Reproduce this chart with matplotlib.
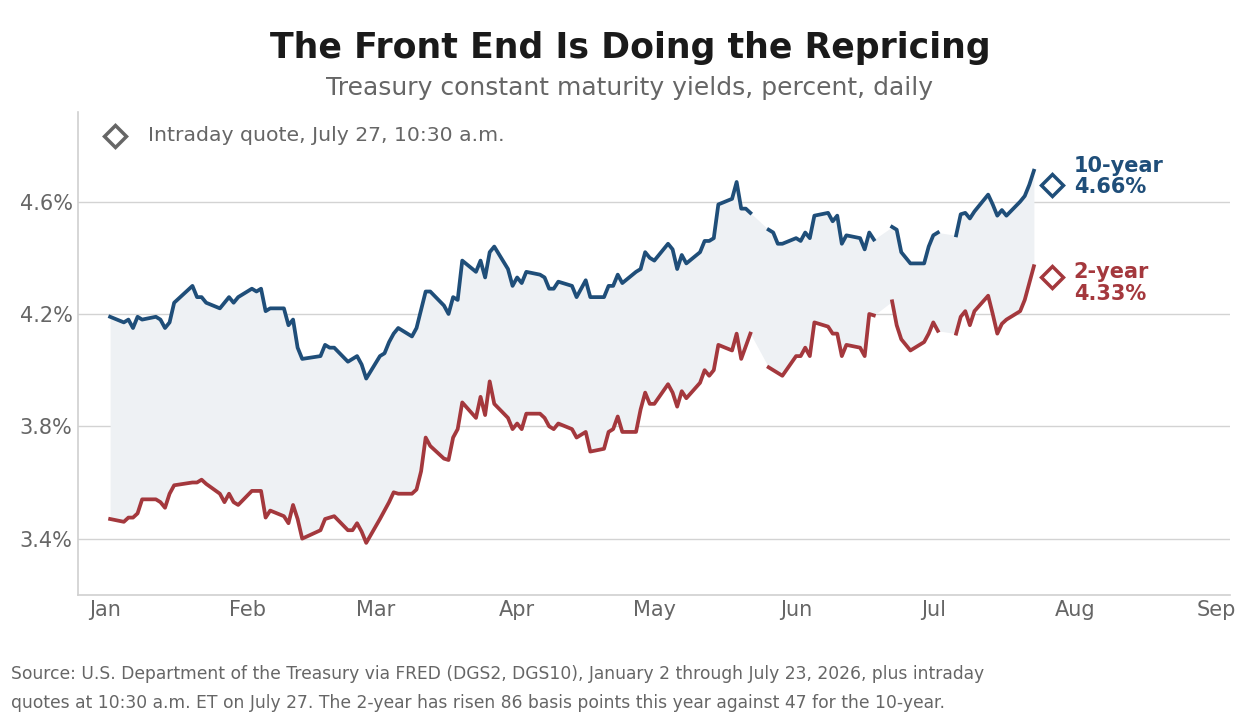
import matplotlib
matplotlib.use("Agg")
import matplotlib.pyplot as plt
import matplotlib.dates as mdates
import numpy as np
import pandas as pd

nan = np.nan

# trading days Jan 2 - Jul 23, 2026 (MLK and Presidents Day rows absent,
# May 25 / Jun 19 / Jul 3 kept as missing values)
dias = pd.bdate_range("2026-01-02", "2026-07-23")
dias = dias.drop(pd.to_datetime(["2026-01-19", "2026-02-16"]))

dez_anos = [
    # jan
    4.19, 4.17, 4.18, 4.15, 4.19, 4.18, 4.19, 4.18, 4.15, 4.17, 4.24,
    4.30, 4.26, 4.26, 4.24, 4.22, 4.24, 4.26, 4.24, 4.26,
    # fev
    4.29, 4.28, 4.29, 4.21, 4.22, 4.22, 4.16, 4.18, 4.08, 4.04,
    4.05, 4.09, 4.08, 4.08, 4.03, 4.04, 4.05, 4.02, 3.97,
    # mar
    4.05, 4.06, 4.10, 4.13, 4.15, 4.12, 4.15, 4.215, 4.28, 4.28,
    4.23, 4.20, 4.26, 4.25, 4.39, 4.35, 4.39, 4.33, 4.42, 4.44, 4.36, 4.30,
    # abr
    4.33, 4.31, 4.35, 4.34, 4.33, 4.29, 4.29, 4.315, 4.30, 4.26, 4.29,
    4.32, 4.26, 4.26, 4.30, 4.30, 4.34, 4.31, 4.35, 4.36, 4.42, 4.40,
    # mai
    4.39, 4.45, 4.43, 4.36, 4.41, 4.38, 4.42, 4.46, 4.46, 4.47, 4.59,
    4.61, 4.67, 4.575, 4.575, 4.56, nan, 4.50, 4.49, 4.45, 4.45,
    # jun
    4.47, 4.46, 4.49, 4.47, 4.55, 4.56, 4.53, 4.55, 4.45, 4.48, 4.47,
    4.43, 4.49, 4.465, nan, 4.51, 4.50, 4.42, 4.40, 4.38, 4.38, 4.44,
    # jul
    4.48, 4.49, nan, 4.48, 4.555, 4.56, 4.54, 4.565, 4.625, 4.59, 4.55,
    4.57, 4.55, 4.60, 4.62, 4.66, 4.71,
]

dois_anos = [
    # jan
    3.47, 3.46, 3.475, 3.475, 3.49, 3.54, 3.54, 3.53, 3.51, 3.56, 3.59,
    3.60, 3.60, 3.61, 3.595, 3.56, 3.53, 3.56, 3.53, 3.52,
    # fev
    3.57, 3.57, 3.57, 3.475, 3.50, 3.48, 3.455, 3.52, 3.47, 3.40,
    3.43, 3.47, 3.475, 3.48, 3.43, 3.43, 3.455, 3.425, 3.385,
    # mar
    3.47, 3.50, 3.53, 3.565, 3.56, 3.56, 3.575, 3.64, 3.76, 3.73,
    3.685, 3.68, 3.76, 3.79, 3.885, 3.83, 3.905, 3.84, 3.96, 3.88, 3.83, 3.79,
    # abr
    3.81, 3.79, 3.845, 3.845, 3.83, 3.80, 3.79, 3.81, 3.79, 3.76, 3.77,
    3.78, 3.71, 3.72, 3.78, 3.79, 3.835, 3.78, 3.78, 3.86, 3.92, 3.88,
    # mai
    3.88, 3.95, 3.92, 3.87, 3.925, 3.90, 3.955, 4.00, 3.98, 4.00, 4.09,
    4.07, 4.13, 4.04, 4.085, 4.13, nan, 4.01, 4.00, 3.99, 3.98,
    # jun
    4.05, 4.05, 4.08, 4.05, 4.17, 4.155, 4.13, 4.13, 4.05, 4.09, 4.08,
    4.05, 4.20, 4.195, nan, 4.245, 4.16, 4.11, 4.09, 4.07, 4.10, 4.13,
    # jul
    4.17, 4.14, nan, 4.13, 4.19, 4.21, 4.16, 4.21, 4.265, 4.20, 4.13,
    4.165, 4.18, 4.21, 4.25, 4.31, 4.37,
]

intraday_data = pd.Timestamp("2026-07-27")
intraday_10 = 4.66
intraday_2 = 4.33

dez_anos = np.array(dez_anos)
dois_anos = np.array(dois_anos)
assert len(dias) == len(dez_anos) == len(dois_anos)

AZUL = "#1f4e79"
VERMELHO = "#a4383d"
CINZA = "#666666"

fig = plt.figure(figsize=(12.6, 7.21), dpi=100)
ax = fig.add_axes([0.062, 0.175, 0.914, 0.67])

ok = ~np.isnan(dez_anos) & ~np.isnan(dois_anos)
ax.fill_between(dias[ok], dois_anos[ok], dez_anos[ok], color="#eef1f4", lw=0, zorder=1)

ax.plot(dias, dez_anos, color=AZUL, lw=2.7, zorder=3, solid_joinstyle="round")
ax.plot(dias, dois_anos, color=VERMELHO, lw=2.7, zorder=3, solid_joinstyle="round")

ax.plot([intraday_data], [intraday_10], marker="D", ms=11, mfc="white",
        mec=AZUL, mew=2.5, ls="none", zorder=4)
ax.plot([intraday_data], [intraday_2], marker="D", ms=11, mfc="white",
        mec=VERMELHO, mew=2.5, ls="none", zorder=4)

xt = intraday_data + pd.Timedelta(days=4.7)
ax.text(xt, intraday_10 + 0.03, f"10-year\n{intraday_10:.2f}%", color=AZUL,
        fontsize=15, fontweight="bold", va="center", ha="left", linespacing=1.1)
ax.text(xt, intraday_2 - 0.02, f"2-year\n{intraday_2:.2f}%", color=VERMELHO,
        fontsize=15, fontweight="bold", va="center", ha="left", linespacing=1.1)

# legenda
ax.plot([0.032], [0.95], transform=ax.transAxes, marker="D", ms=11, mfc="white",
        mec=CINZA, mew=2.5, ls="none", clip_on=False)
ax.text(0.061, 0.95, "Intraday quote, July 27, 10:30 a.m.", transform=ax.transAxes,
        color=CINZA, fontsize=14.7, va="center", ha="left")

ax.set_xlim(pd.Timestamp("2025-12-26"), pd.Timestamp("2026-09-03 20:00"))
ax.set_ylim(3.2, 4.92)
ax.set_yticks([3.4, 3.8, 4.2, 4.6])
ax.set_yticklabels(["3.4%", "3.8%", "4.2%", "4.6%"])
ax.xaxis.set_major_locator(mdates.MonthLocator())
ax.xaxis.set_major_formatter(mdates.DateFormatter("%b"))
ax.tick_params(length=0, labelsize=15, colors=CINZA)
ax.tick_params(axis="x", pad=4)
ax.tick_params(axis="y", pad=4)
ax.grid(axis="y", color="#d3d3d3", lw=1)
ax.set_axisbelow(True)
for s in ["top", "right"]:
    ax.spines[s].set_visible(False)
for s in ["left", "bottom"]:
    ax.spines[s].set_color("#d0d0d0")
    ax.spines[s].set_linewidth(1.2)

fig.text(0.5, 0.933, "The Front End Is Doing the Repricing", ha="center", va="center",
         fontsize=25, fontweight="bold", color="#1a1a1a")
fig.text(0.5, 0.878, "Treasury constant maturity yields, percent, daily", ha="center",
         va="center", fontsize=18, color=CINZA)
fig.text(0.009, 0.065, "Source: U.S. Department of the Treasury via FRED (DGS2, DGS10), "
         "January 2 through July 23, 2026, plus intraday", ha="left", va="center",
         fontsize=12.3, color=CINZA)
fig.text(0.009, 0.025, "quotes at 10:30 a.m. ET on July 27. The 2-year has risen 86 basis "
         "points this year against 47 for the 10-year.", ha="left", va="center",
         fontsize=12.3, color=CINZA)

fig.savefig("out.png", dpi=100)
